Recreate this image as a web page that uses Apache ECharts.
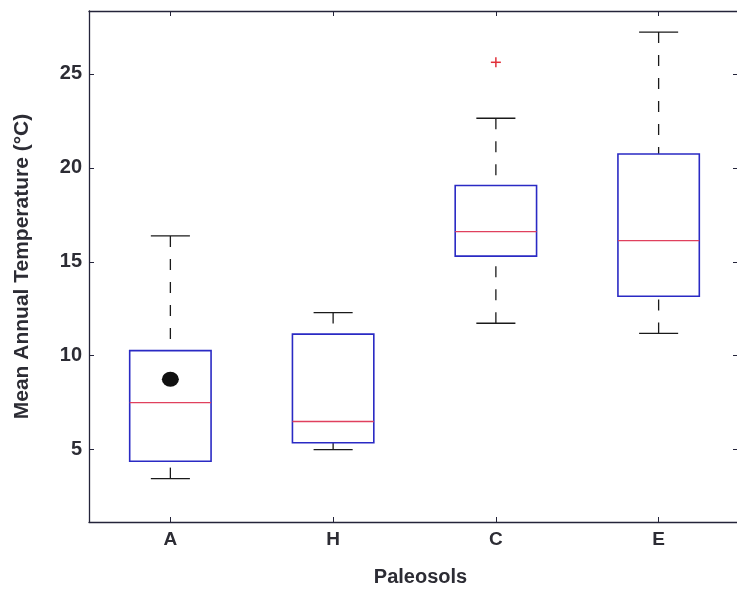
<!DOCTYPE html>
<html>
<head>
<meta charset="utf-8">
<script src="https://cdn.jsdelivr.net/npm/echarts@6/dist/echarts.min.js"></script>
<style>
  html, body { margin: 0; padding: 0; background: #fff; }
  #chart { width: 737px; height: 590px; }
</style>
</head>
<body>
<div id="chart"></div>
<script>
// Paleosol groups along the x axis
const categories = ['A', 'H', 'C', 'E'];
// Box statistics per group (°C)
const lowerWhisker = [3.46, 5.0, 11.73, 11.19];
const quartile1 = [4.38, 5.37, 15.3, 13.17];
const medians = [7.5, 6.5, 16.61, 16.13];
const quartile3 = [10.27, 11.15, 19.06, 20.74];
const upperWhisker = [16.38, 12.3, 22.64, 27.23];
// Points beyond the whiskers: [group, value]
const outliers = [['C', 25.62]];
// Highlighted point inside group A
const markedPoints = [['A', 8.75]];
// Tick values on the temperature axis
const yTicks = [5, 10, 15, 20, 25];

const FONT = "'Liberation Sans', Arial, sans-serif";
const TEXT = '#2c2c34';
const AXIS = '#24243a';
const BLUE = '#2a2ac4';
const RED = '#e0405e';

const boxData = categories.map((c, i) => [i, lowerWhisker[i], quartile1[i], medians[i], quartile3[i], upperWhisker[i]]);

function renderBox(params, api) {
  const x = api.value(0);
  const band = api.size([1, 0])[0];
  const boxW = band * 0.5;
  const capW = band * 0.24;
  const pLow = api.coord([x, api.value(1)]);
  const pQ1 = api.coord([x, api.value(2)]);
  const pMed = api.coord([x, api.value(3)]);
  const pQ3 = api.coord([x, api.value(4)]);
  const pHigh = api.coord([x, api.value(5)]);
  const cx = pMed[0];
  const dash = { stroke: '#1a1a1a', lineWidth: 1.3, lineDash: [11, 12] };
  const solid = { stroke: '#1a1a1a', lineWidth: 1.3 };
  return {
    type: 'group',
    children: [
      { type: 'line', shape: { x1: cx, y1: pHigh[1], x2: cx, y2: pQ3[1] }, style: dash },
      { type: 'line', shape: { x1: cx, y1: pLow[1], x2: cx, y2: pQ1[1] }, style: dash },
      { type: 'line', shape: { x1: cx - capW / 2, y1: pHigh[1], x2: cx + capW / 2, y2: pHigh[1] }, style: solid },
      { type: 'line', shape: { x1: cx - capW / 2, y1: pLow[1], x2: cx + capW / 2, y2: pLow[1] }, style: solid },
      { type: 'rect', shape: { x: cx - boxW / 2, y: pQ3[1], width: boxW, height: pQ1[1] - pQ3[1] },
        style: { fill: 'none', stroke: BLUE, lineWidth: 1.6 } },
      { type: 'line', shape: { x1: cx - boxW / 2, y1: pMed[1], x2: cx + boxW / 2, y2: pMed[1] },
        style: { stroke: RED, lineWidth: 1.3 } }
    ]
  };
}

function renderPlus(params, api) {
  const p = api.coord([api.value(0), api.value(1)]);
  const h = 5;
  const st = { stroke: '#e0303a', lineWidth: 1.5 };
  return {
    type: 'group',
    children: [
      { type: 'line', shape: { x1: p[0] - h, y1: p[1], x2: p[0] + h, y2: p[1] }, style: st },
      { type: 'line', shape: { x1: p[0], y1: p[1] - h, x2: p[0], y2: p[1] + h }, style: st }
    ]
  };
}

const chart = echarts.init(document.getElementById('chart'), null, { renderer: 'canvas' });
chart.setOption({
  animation: false,
  backgroundColor: '#ffffff',
  grid: { left: 89, right: -3, top: 11, bottom: 68, containLabel: false, outerBoundsMode: 'none' },
  xAxis: [
    {
      type: 'category',
      data: categories,
      position: 'bottom',
      name: 'Paleosols',
      nameLocation: 'middle',
      nameGap: 45,
      nameTextStyle: { fontFamily: FONT, fontSize: 20, fontWeight: 'bold', color: TEXT, padding: [0, 0, 0, 12] },
      axisLine: { show: true, lineStyle: { color: AXIS, width: 1.3 } },
      axisTick: { show: true, inside: true, alignWithLabel: true, length: 5, lineStyle: { color: AXIS } },
      axisLabel: { fontFamily: FONT, fontSize: 19, fontWeight: 'bold', color: TEXT, margin: 8 },
      splitLine: { show: false }
    },
    {
      type: 'category',
      data: categories,
      position: 'top',
      axisLine: { show: true, lineStyle: { color: AXIS, width: 1.3 } },
      axisTick: { show: true, inside: true, alignWithLabel: true, length: 5, lineStyle: { color: AXIS } },
      axisLabel: { show: false },
      splitLine: { show: false }
    }
  ],
  yAxis: [
    {
      type: 'value',
      min: 1.15,
      max: 28.35,
      position: 'left',
      name: 'Mean Annual Temperature (°C)',
      nameLocation: 'middle',
      nameGap: 56,
      nameTextStyle: { fontFamily: FONT, fontSize: 21, fontWeight: 'bold', color: TEXT },
      axisLine: { show: true, lineStyle: { color: AXIS, width: 1.3 } },
      axisTick: { show: true, inside: true, length: 5, customValues: yTicks, lineStyle: { color: AXIS } },
      axisLabel: { fontFamily: FONT, fontSize: 20, fontWeight: 'bold', color: TEXT, margin: 7, customValues: yTicks },
      splitLine: { show: false }
    },
    {
      type: 'value',
      min: 1.15,
      max: 28.35,
      position: 'right',
      axisLine: { show: true, lineStyle: { color: AXIS, width: 1.3 } },
      axisTick: { show: true, inside: true, length: 7, customValues: yTicks, lineStyle: { color: AXIS } },
      axisLabel: { show: false },
      splitLine: { show: false }
    }
  ],
  series: [
    {
      type: 'custom',
      name: 'box',
      xAxisIndex: 0,
      yAxisIndex: 0,
      renderItem: renderBox,
      encode: { x: 0, y: [1, 2, 3, 4, 5] },
      data: boxData,
      z: 2
    },
    {
      type: 'custom',
      name: 'outliers',
      renderItem: renderPlus,
      encode: { x: 0, y: 1 },
      data: outliers.map(o => [categories.indexOf(o[0]), o[1]]),
      z: 3
    },
    {
      type: 'scatter',
      name: 'marked',
      data: markedPoints.map(o => [categories.indexOf(o[0]), o[1]]),
      symbol: 'circle',
      symbolSize: [17, 15],
      itemStyle: { color: '#111111', opacity: 1 },
      z: 4
    }
  ]
});
</script>
</body>
</html>
